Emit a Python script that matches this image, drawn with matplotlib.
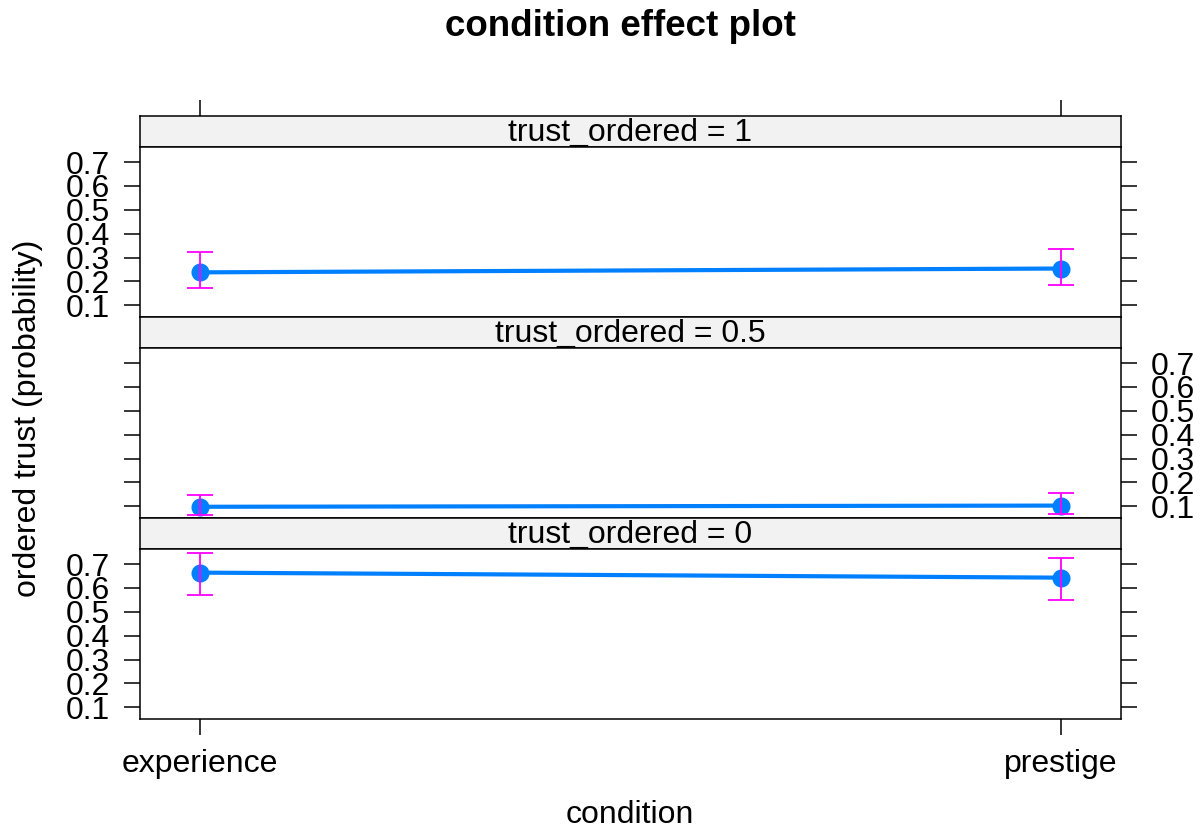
import matplotlib
matplotlib.use("Agg")
import matplotlib.pyplot as plt
import numpy as np

plt.rcParams['font.family'] = ['Liberation Sans', 'DejaVu Sans']

# effect estimates per response level (rows) and condition (columns)
categories = ["experience", "prestige"]
levels = ["1", "0.5", "0"]
prob_fit = [[0.238, 0.254], [0.098, 0.103], [0.664, 0.643]]
prob_lower = [[0.171, 0.186], [0.065, 0.068], [0.570, 0.549]]
prob_upper = [[0.322, 0.337], [0.149, 0.154], [0.747, 0.726]]
yticks = [0.1, 0.2, 0.3, 0.4, 0.5, 0.6, 0.7]

W, H = 1200, 830
fig = plt.figure(figsize=(W / 100, H / 100), dpi=100)


def box(x0, y0, x1, y1):
    # pixel box (top-left origin) -> figure fraction
    return [x0 / W, 1 - y1 / H, (x1 - x0) / W, (y1 - y0) / H]


x = np.arange(1, len(categories) + 1)
fs = 23
tl = 11.5
lw_frame = 1.1

for i, lev in enumerate(levels):
    top = 116 + i * 201
    sax = fig.add_axes(box(140, top, 1121, top + 31))
    ax = fig.add_axes(box(140, top + 31, 1121, top + 201))

    # strip
    sax.set_facecolor('#F2F2F2')
    sax.set_xlim(0.93, 2.07)
    sax.set_ylim(0, 1)
    sax.text(0.5, 0.45, 'trust_ordered = ' + lev, transform=sax.transAxes,
             ha='center', va='center', fontsize=fs)
    sax.set_yticks([])
    if i == 0:
        sax.set_xticks(x)
        sax.tick_params(axis='x', top=True, bottom=False, labeltop=False,
                        labelbottom=False, direction='out', length=tl, width=lw_frame)
    else:
        sax.set_xticks([])
    for s in sax.spines.values():
        s.set_linewidth(lw_frame)

    f = np.array(prob_fit[i])
    lo = np.array(prob_lower[i])
    hi = np.array(prob_upper[i])
    ax.plot(x, f, color='#0080FF', lw=3, marker='o', ms=12, zorder=2)
    ax.errorbar(x, f, yerr=[f - lo, hi - f], fmt='none', ecolor='#FF00FF',
                elinewidth=1.3, capsize=9.5, capthick=1.3, zorder=3)
    ax.set_xlim(0.93, 2.07)
    ax.set_ylim(0.051, 0.763)
    ax.set_yticks(yticks)
    ax.set_yticklabels([f'{v:.1f}' for v in yticks])
    ax.set_xticks(x)
    ax.set_xticklabels(categories)
    left_lab = i != 1
    ax.tick_params(axis='y', left=True, right=True, labelleft=left_lab,
                   labelright=not left_lab, direction='out', length=tl,
                   width=lw_frame, labelsize=fs, pad=10)
    bottom = i == len(levels) - 1
    ax.tick_params(axis='x', bottom=bottom, top=False, labelbottom=bottom,
                   direction='out', length=tl, width=lw_frame, labelsize=fs, pad=10)
    for s in ax.spines.values():
        s.set_linewidth(lw_frame)

fig.text(620 / W, 1 - 27 / H, 'condition effect plot', ha='center', va='center',
         fontsize=26.5, fontweight='bold')
fig.text(630 / W, 1 - 815 / H, 'condition', ha='center', va='center', fontsize=fs)
fig.text(28 / W, 1 - 418 / H, 'ordered trust (probability)', ha='center',
         va='center', rotation=90, fontsize=fs)

fig.savefig('out.png', dpi=100)
